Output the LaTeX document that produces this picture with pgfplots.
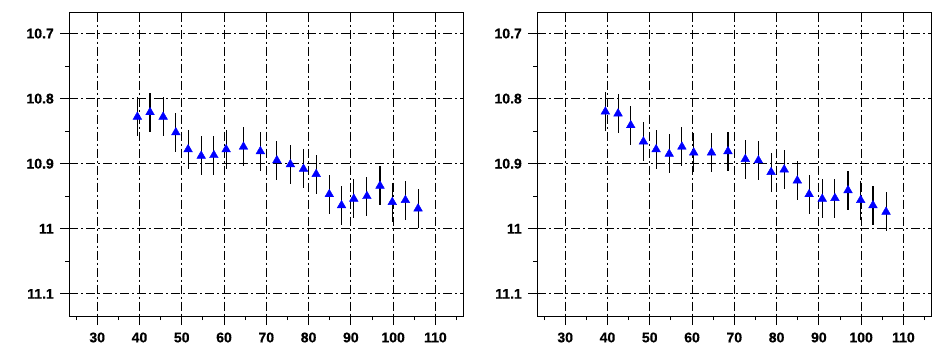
\documentclass[border=0pt]{standalone}
\usepackage{fontspec}
\setmainfont{Liberation Sans}
\newfontfamily\tickfont{Liberation Sans Bold}[FakeBold=0.6]
\usepackage{pgfplots}
\pgfplotsset{compat=1.18}
\usepackage{pgfplotstable}

\pgfplotstableread{
x y e
39.5 10.828 0.030
42.5 10.821 0.030
45.6 10.828 0.030
48.6 10.852 0.030
51.5 10.878 0.030
54.6 10.888 0.030
57.6 10.887 0.030
60.5 10.878 0.030
64.6 10.874 0.030
68.6 10.881 0.030
72.5 10.895 0.030
75.7 10.901 0.030
78.8 10.908 0.030
81.8 10.916 0.030
84.9 10.947 0.030
87.8 10.964 0.030
90.7 10.954 0.030
93.8 10.950 0.030
96.9 10.934 0.030
99.8 10.959 0.030
102.9 10.956 0.030
105.9 10.969 0.030
}\left

\pgfplotstableread{
x y e
39.5 10.820 0.030
42.5 10.823 0.030
45.5 10.841 0.030
48.5 10.866 0.030
51.5 10.878 0.030
54.6 10.885 0.030
57.6 10.874 0.030
60.4 10.883 0.030
64.6 10.883 0.030
68.5 10.881 0.030
72.6 10.893 0.030
75.7 10.895 0.030
78.7 10.913 0.030
81.8 10.909 0.030
84.9 10.926 0.030
87.7 10.947 0.030
90.8 10.954 0.030
93.8 10.953 0.030
96.9 10.941 0.030
99.9 10.956 0.030
102.8 10.964 0.030
105.9 10.974 0.030
}\right

\pgfplotsset{
  panel/.style={
    scale only axis,
    width=394pt, height=303.3pt,
    anchor=south west,
    xmin=23.4, xmax=116.6,
    ymin=10.668, ymax=11.134,
    y dir=reverse,
    xtick={30,40,50,60,70,80,90,100,110},
    minor xtick={25,35,45,55,65,75,85,95,105,115},
    ytick={10.7,10.8,10.9,11,11.1},
    minor ytick={10.75,10.85,10.95,11.05},
    xtick pos=bottom, ytick pos=left,
    tick align=outside,
    major tick length=9pt,
    minor tick length=4pt,
    tick style={black, line width=0.9pt},
    axis line style={black, line width=1pt},
    grid=major,
    major grid style={black, line width=0.9pt, dash pattern=on 9pt off 3pt on 2pt off 3pt},
    /pgf/number format/assume math mode=true,
    tick label style={font=\fontsize{14}{16}\selectfont\tickfont},
    xticklabel style={yshift=-4pt},
    yticklabel style={xshift=-3pt},
    clip=false,
  },
  pts/.style={
    only marks,
    mark=triangle*,
    mark size=5pt,
    mark options={fill=blue, draw=blue, solid},
    error bars/.cd,
      y dir=both, y explicit,
      error mark=none,
      error bar style={black, line width=1.1pt, solid},
  },
}

\begin{document}
\begin{tikzpicture}
\useasboundingbox (0,0) rectangle (949pt,355pt);
\begin{axis}[panel, at={(69.3pt,39pt)}]
\addplot+[pts] table[x=x, y=y, y error=e] {\left};
\end{axis}
\begin{axis}[panel, at={(537.3pt,39pt)}]
\addplot+[pts] table[x=x, y=y, y error=e] {\right};
\end{axis}
\end{tikzpicture}
\end{document}
